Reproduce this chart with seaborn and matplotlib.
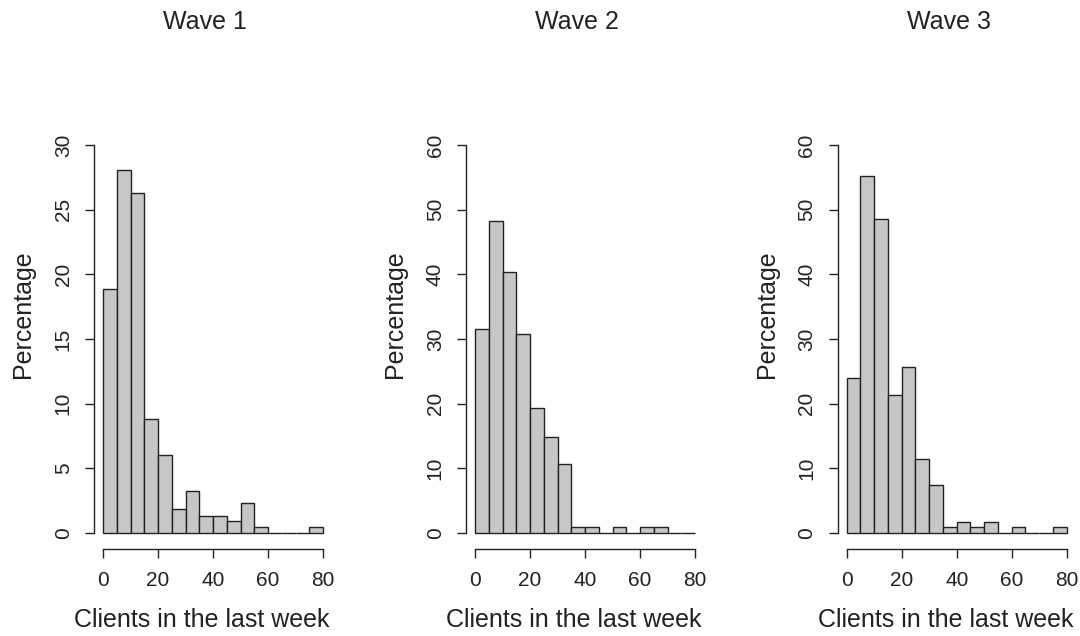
import numpy as np
import pandas as pd
import matplotlib
matplotlib.use("Agg")
import matplotlib.pyplot as plt
import seaborn as sns

# bin edges shared by the three waves (clients per week, width 5)
bin_edges = list(range(0, 85, 5))
bin_mids = [e + 2.5 for e in bin_edges[:-1]]

# percentage per bin
wave1 = [18.9, 28.1, 26.3, 8.8, 6.0, 1.85, 3.25, 1.35, 1.35, 0.9, 2.3, 0.45, 0, 0, 0, 0.45]
wave2 = [31.6, 48.3, 40.4, 30.7, 19.3, 14.9, 10.6, 0.9, 0.9, 0, 0.9, 0, 0.9, 0.9, 0, 0]
wave3 = [23.9, 55.2, 48.6, 21.4, 25.6, 11.5, 7.4, 0.9, 1.7, 0.9, 1.7, 0, 0.9, 0, 0, 0.9]

titles = ["Wave 1", "Wave 2", "Wave 3"]
waves = [wave1, wave2, wave3]
y_tops = [30, 60, 60]
x_ticks = [0, 20, 40, 60, 80]

sns.set_theme(style="white")
plt.rcParams["font.family"] = ["Liberation Sans", "DejaVu Sans"]

fig = plt.figure(figsize=(10.8, 6.36), dpi=100)
W, H = 1080, 636
lefts = [94.3, 466.3, 837.9]
ax_w, bottom_px, top_px = 237.6, 548.5, 129.5

for left, title, vals, ytop in zip(lefts, titles, waves, y_tops):
    ax = fig.add_axes([left / W, (H - bottom_px) / H, ax_w / W, (bottom_px - top_px) / H])
    df = pd.DataFrame({"clients": bin_mids, "pct": vals})
    sns.histplot(data=df, x="clients", weights="pct", bins=bin_edges, ax=ax,
                 color="#c6c7c9", edgecolor="#222222", linewidth=1.0, alpha=1)
    pad_y = ytop * 0.04
    ax.set_xlim(-3.2, 83.2)
    ax.set_ylim(-pad_y, ytop + pad_y)
    yt = np.arange(0, ytop + 1, ytop // 6)
    ax.set_yticks(yt)
    ax.set_yticklabels([str(v) for v in yt])
    ax.set_xticks(x_ticks)

    for side in ["top", "right"]:
        ax.spines[side].set_visible(False)
    ax.spines["left"].set_bounds(0, ytop)
    ax.spines["bottom"].set_bounds(0, 80)
    for side in ["left", "bottom"]:
        ax.spines[side].set_color("#222222")
        ax.spines[side].set_linewidth(1.0)

    ax.tick_params(axis="both", which="both", direction="out", length=6.5, width=1.0,
                   color="#222222", labelsize=15, labelcolor="#222222", pad=10,
                   left=True, bottom=True)
    ax.tick_params(axis="y", labelrotation=90, pad=9)
    for lab in ax.get_yticklabels():
        lab.set_va("center")

    ax.set_xlabel("Clients in the last week", fontsize=18, color="#222222")
    ax.xaxis.set_label_coords(0.454, -0.171)
    ax.xaxis.label.set_va("center")
    ax.set_ylabel("Percentage", fontsize=18, color="#222222")
    ax.yaxis.set_label_coords(-0.30, 0.56)
    ax.yaxis.label.set_va("center")
    ax.set_title(title, fontsize=18, color="#222222", x=0.467, y=1.237, va="center")

fig.savefig("out.png", dpi=100, facecolor="white")
